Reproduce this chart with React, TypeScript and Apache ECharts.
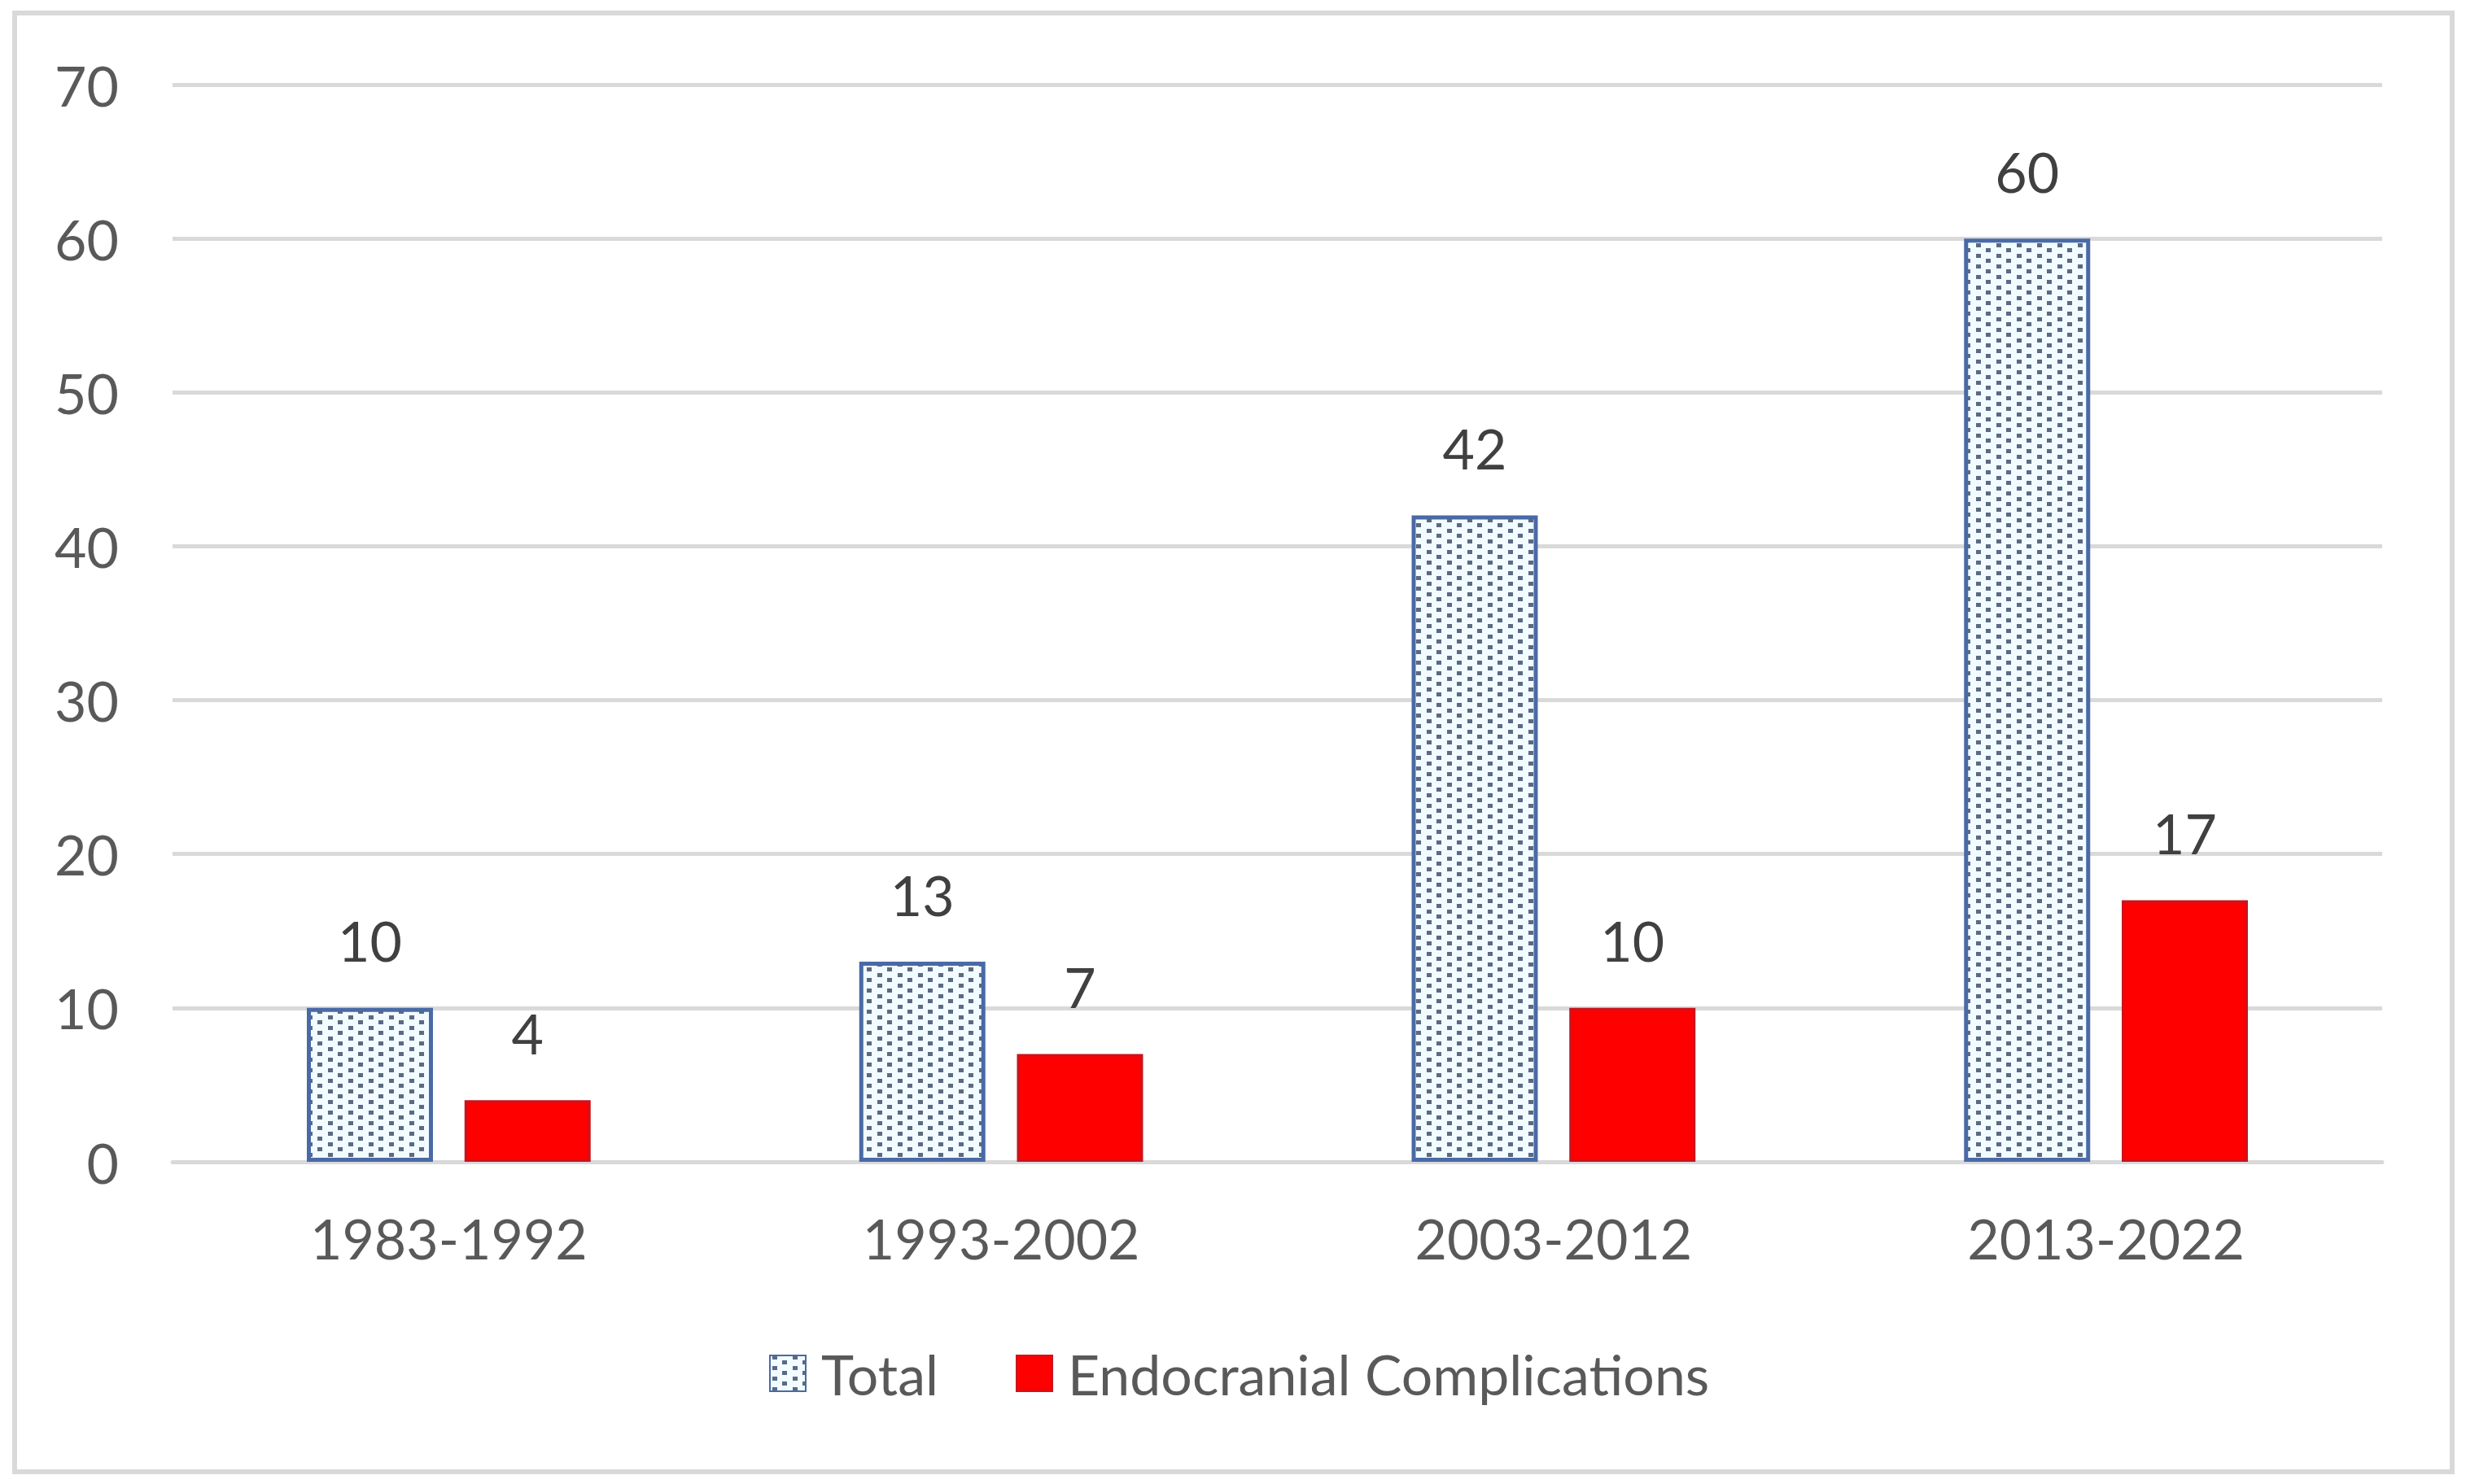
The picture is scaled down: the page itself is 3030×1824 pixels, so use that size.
import React, { useEffect, useRef } from "react";
import * as echarts from "echarts";

const categories = ["1983-1992", "1993-2002", "2003-2012", "2013-2022"];
const totalValues = [10, 13, 42, 60];
const endocranialValues = [4, 7, 10, 17];
const seriesNames = ["Total", "Endocranial Complications"];
const yMin = 0;
const yMax = 70;
const yInterval = 10;

const FONT = "Lato, 'Open Sans', sans-serif";

function makeDotPattern(): HTMLCanvasElement {
  const c = document.createElement("canvas");
  c.width = 25;
  c.height = 13;
  const ctx = c.getContext("2d")!;
  ctx.fillStyle = "#f2fbff";
  ctx.fillRect(0, 0, 25, 13);
  ctx.fillStyle = "#5a6a82";
  ctx.fillRect(3, 0, 6, 5);
  ctx.fillRect(15, 6, 6, 5);
  return c;
}

export default function App() {
  const ref = useRef<HTMLDivElement>(null);
  useEffect(() => {
    if (!ref.current) return;
    const chart = echarts.init(ref.current, undefined, { renderer: "svg" });
    const pattern = makeDotPattern();
    chart.setOption({
      animation: false,
      backgroundColor: "#ffffff",
      graphic: [
        {
          type: "rect",
          shape: { x: 18, y: 16, width: 2995, height: 1793 },
          style: { fill: "none", stroke: "#d9d9d9", lineWidth: 6 },
          silent: true,
        },
      ],
      grid: { left: 212, right: 103, top: 104, bottom: 396 },
      legend: {
        left: 940,
        top: 1649,
        itemWidth: 44,
        itemHeight: 44,
        itemGap: 95,
        icon: "rect",
        textStyle: { fontSize: 68, color: "#595959", fontFamily: FONT, padding: [0, 0, 0, 14] },
        data: seriesNames,
      },
      xAxis: {
        type: "category",
        data: categories,
        axisLine: { lineStyle: { color: "#d9d9d9", width: 5 } },
        axisTick: { show: false },
        axisLabel: { fontSize: 68, color: "#595959", fontFamily: FONT, margin: 59 },
      },
      yAxis: {
        type: "value",
        min: yMin,
        max: yMax,
        interval: yInterval,
        axisLine: { show: false },
        axisTick: { show: false },
        splitLine: { lineStyle: { color: "#d9d9d9", width: 5 } },
        axisLabel: { fontSize: 68, color: "#595959", fontFamily: FONT, margin: 66 },
      },
      series: [
        {
          name: seriesNames[0],
          type: "bar",
          data: totalValues,
          barWidth: 155,
          barGap: "25%",
          itemStyle: {
            color: { image: pattern, repeat: "repeat" },
            borderColor: "#4a6aa6",
            borderWidth: 5,
          },
          label: {
            show: true,
            position: "top",
            distance: 49,
            fontSize: 68,
            color: "#404040",
            fontFamily: FONT,
          },
        },
        {
          name: seriesNames[1],
          type: "bar",
          data: endocranialValues,
          barWidth: 155,
          itemStyle: { color: "#ff0000", borderColor: "#c8141e", borderWidth: 3 },
          label: {
            show: true,
            position: "top",
            distance: 49,
            fontSize: 68,
            color: "#404040",
            fontFamily: FONT,
          },
        },
      ],
    });
    return () => chart.dispose();
  }, []);
  return (
    <div
      ref={ref}
      style={{ position: "fixed", left: 0, top: 0, width: 3030, height: 1824, background: "#fff" }}
    />
  );
}
